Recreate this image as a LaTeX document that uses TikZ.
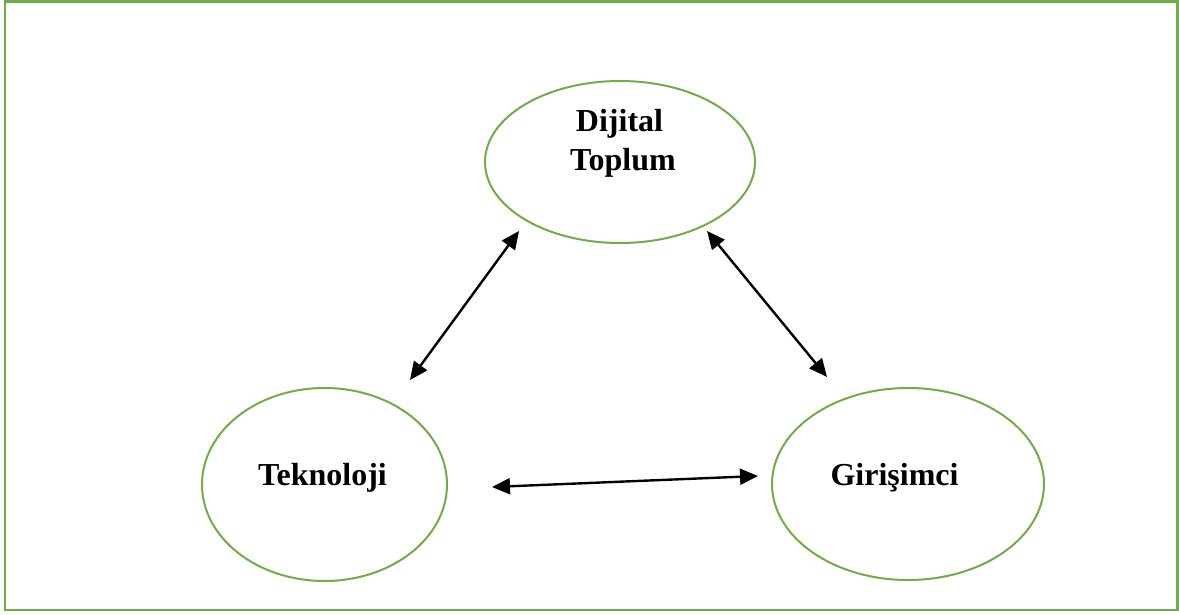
\documentclass[tikz,border=0pt]{standalone}
\usepackage{fontspec}
\setmainfont{Liberation Serif}
\usetikzlibrary{shapes.geometric,arrows.meta}
\definecolor{frgreen}{HTML}{70AD47}
\tikzset{
  oval/.style={ellipse,draw=frgreen,line width=2pt,inner sep=0pt},
  lbl/.style={anchor=base,inner sep=0pt,font=\fontsize{32}{38}\selectfont\bfseries},
  link/.style={line width=2.4pt,{Triangle[length=18pt,width=16pt]}-{Triangle[length=18pt,width=16pt]}}
}
\begin{document}
\begin{tikzpicture}[x=1pt,y=-1pt]
\useasboundingbox (0,0) rectangle (1179,615);
\draw[frgreen,line width=2.2pt] (5,1.5) rectangle (1177.5,610);
\node[oval,minimum width=270pt,minimum height=162pt] (top) at (620,162) {};
\node[oval,minimum width=245pt,minimum height=193pt] (tek) at (324.5,484.5) {};
\node[oval,minimum width=272pt,minimum height=192pt] (gir) at (908,484) {};
\node[lbl] (t1) at (619.5,132) {Dijital};
\node[lbl] (t2) at (623,171) {Toplum};
\node[lbl] (t3) at (322.5,485) {Teknoloji};
\node[lbl] (t4) at (894.5,485) {Girişimci};
\coordinate (a1) at (410,380);
\coordinate (a2) at (519,231);
\coordinate (b1) at (707,231);
\coordinate (b2) at (827,377);
\coordinate (c1) at (492,487);
\coordinate (c2) at (758,476);
\draw[link] (a1) -- (a2);
\draw[link] (b1) -- (b2);
\draw[link] (c1) -- (c2);
\end{tikzpicture}
\end{document}
